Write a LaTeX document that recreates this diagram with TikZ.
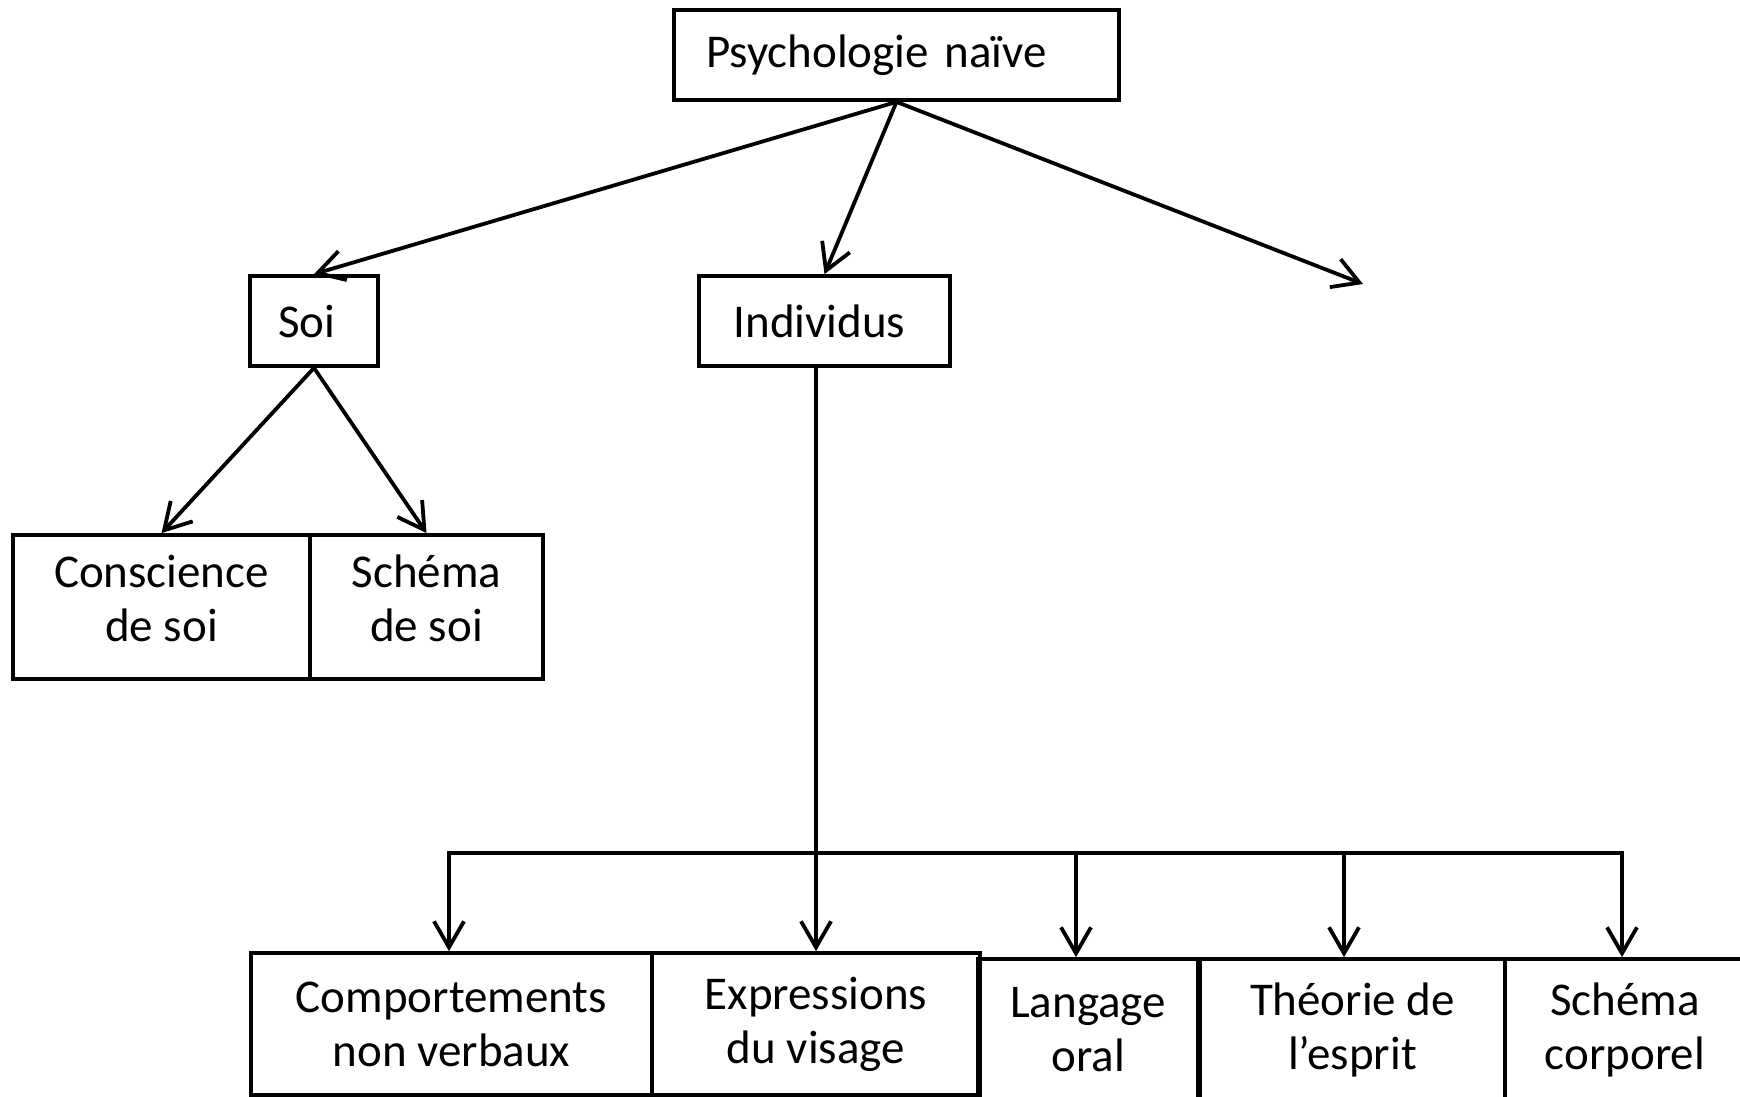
\documentclass[tikz,border=0pt]{standalone}
\usepackage{fontspec}
\setmainfont{Carlito}
\usetikzlibrary{arrows.meta,calc}
\begin{document}
\begin{tikzpicture}[x=0.5pt,y=-0.5pt,
  box/.style={draw,line width=1.9pt,inner sep=0pt,align=center,
    font=\fontsize{23.5pt}{27pt}\selectfont},
  arr/.style={line width=1.9pt,-{Straight Barb[length=13pt,width=15pt]}},
  ln/.style={line width=1.9pt}]
\useasboundingbox (0,0) rectangle (1740,1097);
\clip (0,0) rectangle (1740,1097);
\fill[white] (0,0) rectangle (1740,1097);
% nodes
\node[box,minimum width=222.5pt,minimum height=45pt,text width=190.5pt,
      inner xsep=16pt,align=left] (psy) at (896.5,55) {Psychologie naïve};
\node[box,minimum width=64pt,minimum height=45pt] (soi) at (314,321) {Soi\kern7pt};
\node[box,minimum width=125.5pt,minimum height=45pt] (ind) at (824.5,321) {Individus\kern5pt};
\node[box,minimum width=148.5pt,minimum height=72pt,text depth=8.5pt] (cons) at (161.5,607) {Conscience\\de soi};
\node[box,minimum width=116.5pt,minimum height=72pt,text depth=8.5pt] (schs) at (426.5,607) {Schéma\\de soi};
\node[box,minimum width=200.5pt,minimum height=71pt] (comp) at (451.5,1024) {Comportements\\non verbaux};
\node[box,minimum width=164pt,minimum height=71pt] (expr) at (816,1024) {Expressions\\du visage};
\node[box,minimum width=110pt,minimum height=70.5pt] (lang) at (1088,1029.5) {Langage\\oral};
\node[box,minimum width=152.5pt,minimum height=70.5pt] (theo) at (1352.5,1029.5) {Théorie de\\l’esprit};
\node[box,minimum width=120pt,minimum height=70.5pt] (schc) at (1625,1029.5) {Schéma\\corporel};
% free end
\coordinate (free) at (1363,284);
% bus coordinates
\coordinate (d1) at (449,853);
\coordinate (d3) at (1076,853);
\coordinate (d4) at (1344,853);
\coordinate (d5) at (1622,853);
% connectors
\draw[arr] (psy.south) -- (soi.north);
\draw[arr] (psy.south) -- (ind.north);
\draw[arr] (psy.south) -- (free);
\draw[arr] (soi.south) -- (cons.north);
\draw[arr] (soi.south) -- (schs.north);
\draw[arr] (ind.south -| expr.north) -- (expr.north);
\draw[ln,line cap=rect] (d1) -- (d5);
\draw[arr] (d1) -- (d1 |- comp.north);
\draw[arr] (d3) -- (d3 |- lang.north);
\draw[arr] (d4) -- (d4 |- theo.north);
\draw[arr] (d5) -- (d5 |- schc.north);
\end{tikzpicture}
\end{document}
